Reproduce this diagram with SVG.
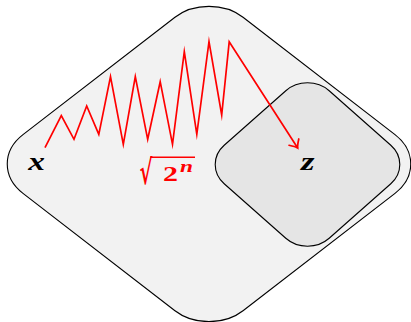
<svg xmlns="http://www.w3.org/2000/svg" width="411" height="322" viewBox="0 0 411 322">
<style>
.region{stroke:#000;stroke-width:1.1;stroke-linejoin:round}
.math{font-family:"Liberation Serif","DejaVu Serif",serif;font-style:italic;font-weight:bold;fill:#000}
.red{fill:#ff0000;font-family:"Liberation Serif","DejaVu Serif",serif;font-weight:bold}
.zz{fill:none;stroke:#ff0000;stroke-width:1.7;stroke-linejoin:miter;stroke-miterlimit:20}
</style>
<defs>
<marker id="to" markerUnits="userSpaceOnUse" markerWidth="20" markerHeight="20" viewBox="-10 -10 20 20" refX="0" refY="0" orient="auto" overflow="visible">
<path d="M -7,-5.8 Q -2.5,-1.2 0,0 Q -2.5,1.2 -7,5.8" fill="none" stroke="#ff0000" stroke-width="1.7" stroke-linecap="round"/>
</marker>
</defs>
<rect width="411" height="322" fill="#fff"/>
<g id="outer">
<path class="region" fill="#f2f2f2" d="M 22.99,134.66 L 174.97,17.29 C 193.76,2.77 224.24,2.77 243.03,17.29 L 395.01,134.66 C 415.99,150.86 415.99,177.14 395.01,193.34 L 243.03,310.71 C 224.24,325.23 193.76,325.23 174.97,310.71 L 22.99,193.34 C 2.01,177.14 2.01,150.86 22.99,134.66 Z"/>
</g>
<g id="inner">
<path class="region" fill="#e5e5e5" d="M 224.19,145.27 L 285.81,90.73 C 297.79,80.11 317.21,80.11 329.19,90.73 L 390.81,145.27 C 402.79,155.89 402.79,173.11 390.81,183.73 L 329.19,238.27 C 317.21,248.89 297.79,248.89 285.81,238.27 L 224.19,183.73 C 212.21,173.11 212.21,155.89 224.19,145.27 Z"/>
</g>
<g id="node-x">
<text class="math" x="28.3" y="170" font-size="25" textLength="16.7" lengthAdjust="spacingAndGlyphs">x</text>
</g>
<g id="node-z">
<text class="math" x="301" y="170" font-size="25" textLength="13.5" lengthAdjust="spacingAndGlyphs">z</text>
</g>
<g id="connectors">
<polyline class="zz" marker-end="url(#to)" points="45,147.7 61.3,115.7 74,139.3 86.7,106 98.8,134.3 110.5,76.7 123.3,144.3 135.3,76.7 147.7,139.3 160.2,81.7 172.5,144.3 184.3,51.7 196.8,134.3 209,41.7 221.7,115 229.2,41.8 297.7,148"/>
<g id="label-sqrt">
<text x="139.5" y="183.5" font-size="34" font-family="'DejaVu Serif',serif" font-weight="bold" fill="#ff0000" textLength="13" lengthAdjust="spacingAndGlyphs">√</text>
<line x1="150" y1="157.3" x2="195" y2="157.3" stroke="#ff0000" stroke-width="1.4"/>
<text class="red" x="163" y="181" font-size="21" textLength="15" lengthAdjust="spacingAndGlyphs">2</text>
<text class="red" x="180" y="172" font-size="17" font-style="italic" textLength="13" lengthAdjust="spacingAndGlyphs">n</text>
</g>
</g>
</svg>
